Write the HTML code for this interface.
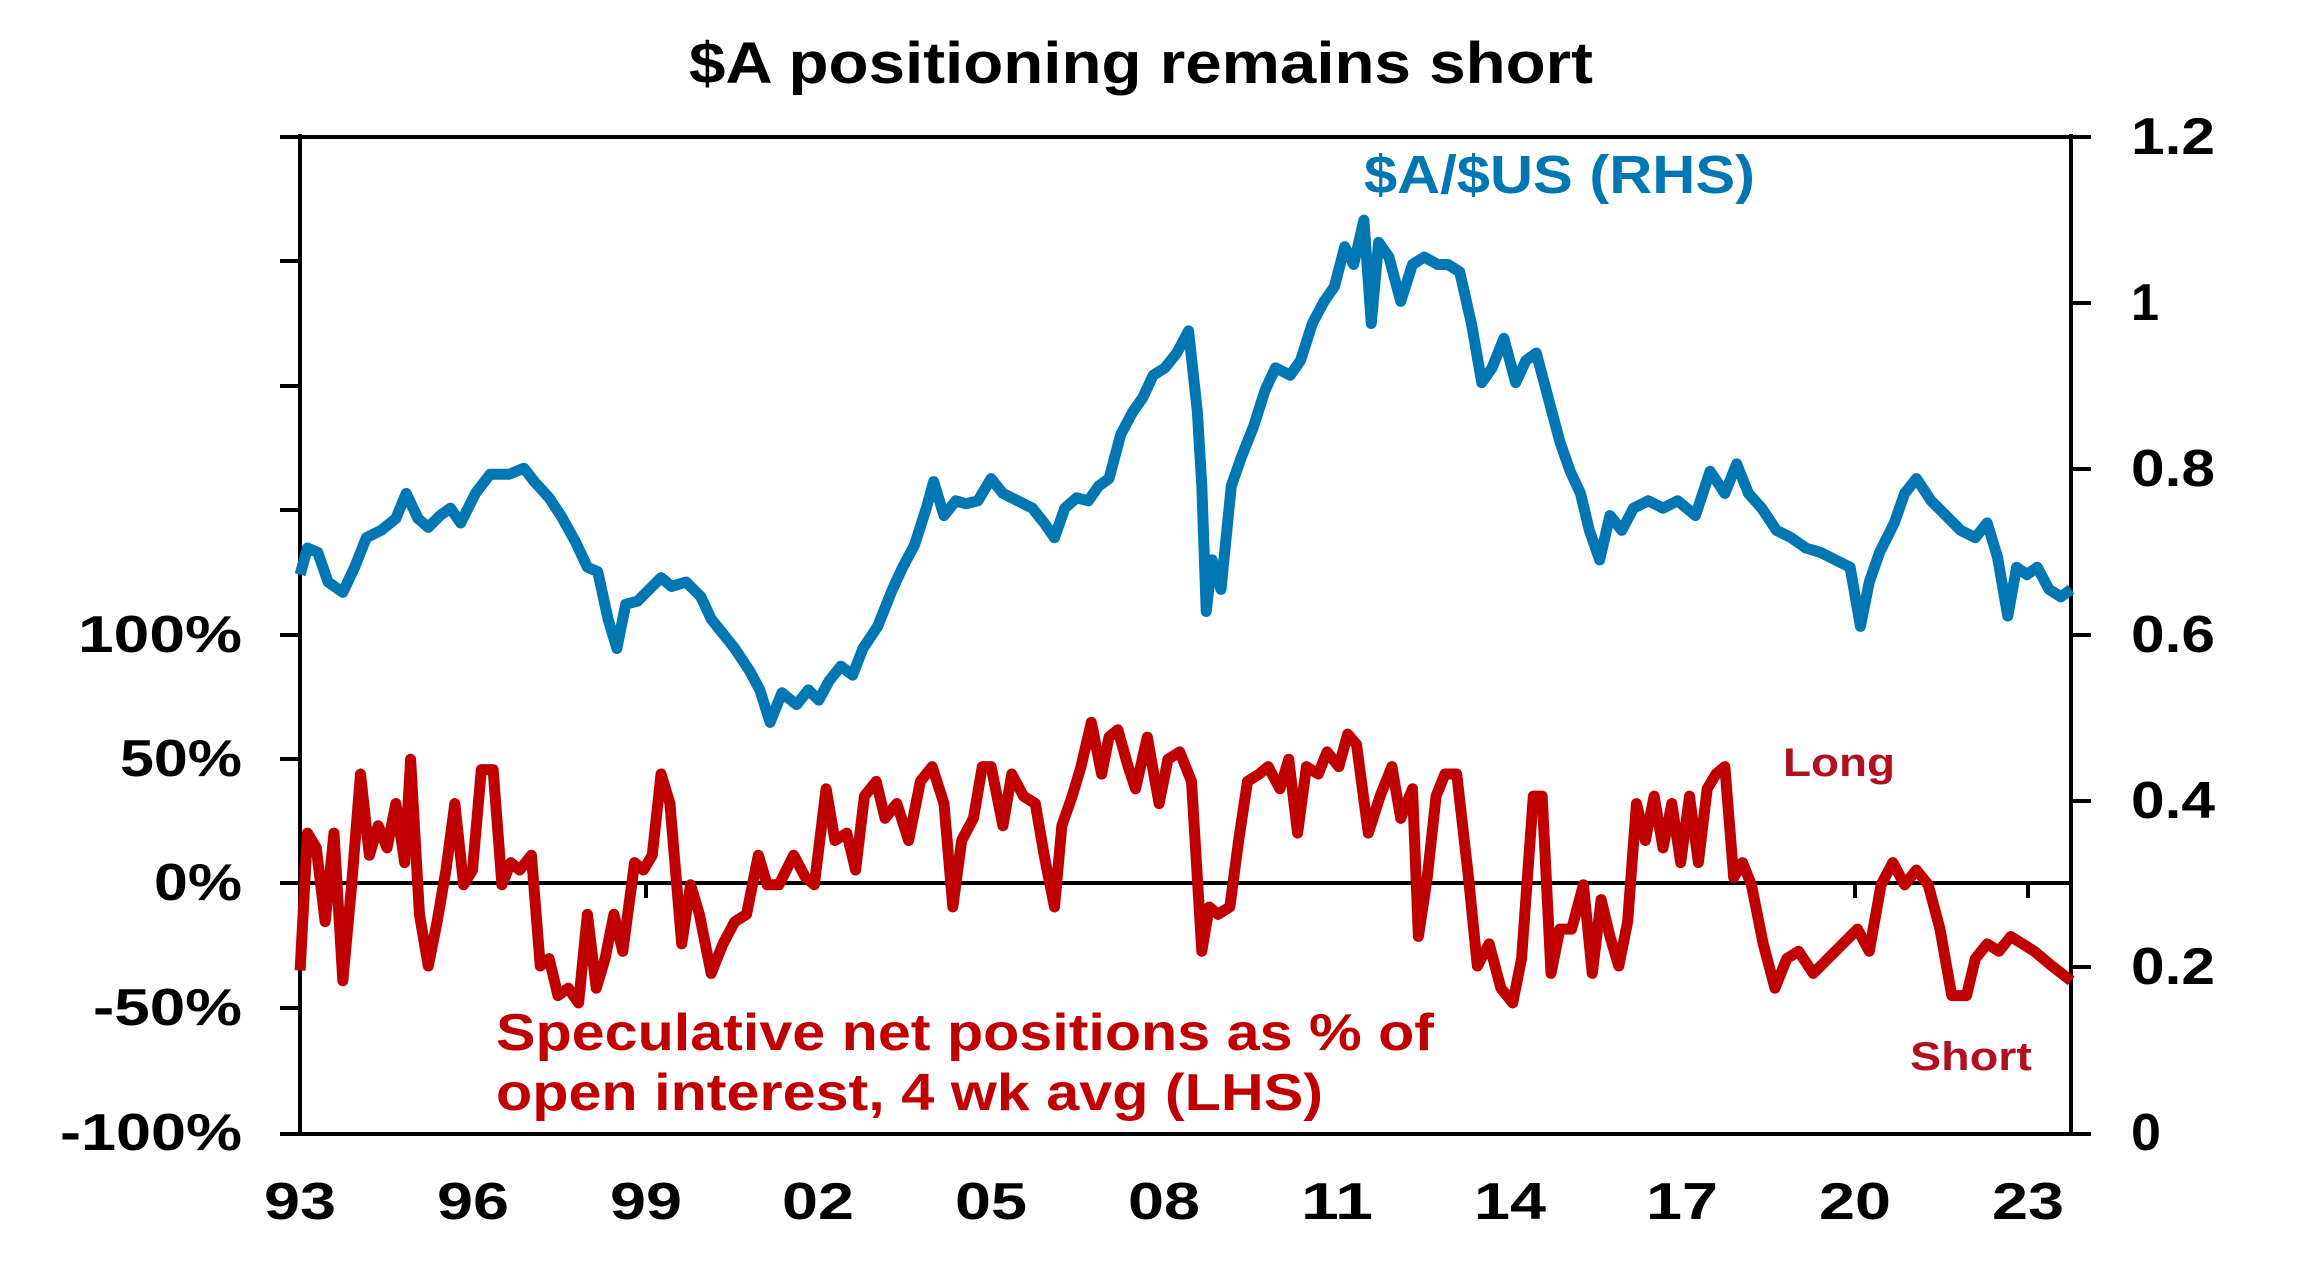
<!DOCTYPE html>
<html><head><meta charset="utf-8"><style>
html,body{margin:0;padding:0;background:#fff;}
svg{display:block;}
text{font-family:"Liberation Sans",Arial,sans-serif;font-weight:bold;}
</style></head><body>
<svg width="2311" height="1264" viewBox="0 0 2311 1264" xmlns="http://www.w3.org/2000/svg">
<text x="689" y="83" font-size="58" textLength="904" lengthAdjust="spacingAndGlyphs" fill="#000">$A positioning remains short</text>
<g stroke="#000" stroke-width="4" fill="none">
<line x1="300" y1="134" x2="300" y2="1135"/>
<line x1="2071" y1="134" x2="2071" y2="1135"/>
<line x1="280" y1="137" x2="2091" y2="137"/>
<line x1="280" y1="1134" x2="2091" y2="1134"/>
<line x1="300" y1="883" x2="2071" y2="883"/>
<line x1="280" y1="261" x2="300" y2="261"/>
<line x1="280" y1="386" x2="300" y2="386"/>
<line x1="280" y1="510" x2="300" y2="510"/>
<line x1="280" y1="635" x2="300" y2="635"/>
<line x1="280" y1="759" x2="300" y2="759"/>
<line x1="280" y1="883" x2="300" y2="883"/>
<line x1="280" y1="1008" x2="300" y2="1008"/>
<line x1="2071" y1="303" x2="2091" y2="303"/>
<line x1="2071" y1="469" x2="2091" y2="469"/>
<line x1="2071" y1="635" x2="2091" y2="635"/>
<line x1="2071" y1="801" x2="2091" y2="801"/>
<line x1="2071" y1="967" x2="2091" y2="967"/>
<line x1="646" y1="883" x2="646" y2="898"/>
<line x1="1855" y1="883" x2="1855" y2="898"/>
<line x1="2028" y1="883" x2="2028" y2="898"/>
</g>
<g font-size="52" fill="#000">
<text x="78" y="652" textLength="164" lengthAdjust="spacingAndGlyphs">100%</text>
<text x="120" y="776" textLength="122" lengthAdjust="spacingAndGlyphs">50%</text>
<text x="154" y="900" textLength="88" lengthAdjust="spacingAndGlyphs">0%</text>
<text x="93" y="1025" textLength="149" lengthAdjust="spacingAndGlyphs">-50%</text>
<text x="60" y="1150" textLength="182" lengthAdjust="spacingAndGlyphs">-100%</text>
</g>
<g font-size="52" fill="#000">
<text x="2131" y="154" textLength="84" lengthAdjust="spacingAndGlyphs">1.2</text>
<text x="2131" y="320" textLength="28" lengthAdjust="spacingAndGlyphs">1</text>
<text x="2131" y="486" textLength="84" lengthAdjust="spacingAndGlyphs">0.8</text>
<text x="2131" y="652" textLength="84" lengthAdjust="spacingAndGlyphs">0.6</text>
<text x="2131" y="818" textLength="84" lengthAdjust="spacingAndGlyphs">0.4</text>
<text x="2131" y="984" textLength="84" lengthAdjust="spacingAndGlyphs">0.2</text>
<text x="2131" y="1150" textLength="30" lengthAdjust="spacingAndGlyphs">0</text>
</g>
<g font-size="52" fill="#000">
<text x="264" y="1219" textLength="72" lengthAdjust="spacingAndGlyphs">93</text>
<text x="437" y="1219" textLength="72" lengthAdjust="spacingAndGlyphs">96</text>
<text x="610" y="1219" textLength="72" lengthAdjust="spacingAndGlyphs">99</text>
<text x="782" y="1219" textLength="72" lengthAdjust="spacingAndGlyphs">02</text>
<text x="955" y="1219" textLength="72" lengthAdjust="spacingAndGlyphs">05</text>
<text x="1128" y="1219" textLength="72" lengthAdjust="spacingAndGlyphs">08</text>
<text x="1301" y="1219" textLength="72" lengthAdjust="spacingAndGlyphs">11</text>
<text x="1474" y="1219" textLength="72" lengthAdjust="spacingAndGlyphs">14</text>
<text x="1646" y="1219" textLength="72" lengthAdjust="spacingAndGlyphs">17</text>
<text x="1819" y="1219" textLength="72" lengthAdjust="spacingAndGlyphs">20</text>
<text x="1992" y="1219" textLength="72" lengthAdjust="spacingAndGlyphs">23</text>
</g>
<g transform="matrix(1.4734,0,0,1.477,1,-1.4)" fill="none" stroke-linejoin="round">
<polyline vector-effect="non-scaling-stroke" stroke="#0077B3" stroke-width="11" points="203,390 208,372 215,375 222,395 232,402 240,385 248,365 258,360 268,352 275,335 283,352 290,358 298,350 305,345 312,355 322,335 332,322 345,322 355,318 362,327 372,338 380,350 390,368 398,385 405,388 412,420 418,440 424,410 432,408 440,400 448,392 455,398 465,395 475,405 482,420 490,430 498,440 508,455 515,468 522,490 530,470 540,478 548,468 555,475 562,462 570,452 578,458 585,440 595,425 605,400 612,385 620,370 628,345 633,327 640,350 648,340 655,342 663,340 672,325 680,335 690,340 700,345 708,355 715,365 722,345 730,338 738,340 745,330 752,325 760,295 768,280 775,270 782,255 790,250 798,240 806,225 812,280 815,330 818,415 822,380 828,400 835,330 842,310 850,290 858,265 865,250 875,255 882,245 890,220 898,205 905,195 912,168 918,180 925,150 930,220 935,165 942,175 950,205 958,180 966,175 975,180 982,180 990,185 998,220 1005,260 1012,250 1020,230 1028,260 1035,245 1042,240 1050,270 1058,300 1065,320 1072,335 1078,360 1085,380 1092,350 1100,360 1108,345 1118,340 1128,345 1138,340 1150,350 1160,320 1170,335 1178,315 1186,335 1195,345 1205,360 1215,365 1225,372 1235,375 1245,380 1255,385 1262,425 1268,395 1275,375 1285,355 1292,335 1300,325 1310,340 1320,350 1330,360 1340,365 1348,355 1355,378 1362,418 1368,385 1375,390 1382,385 1390,400 1398,405 1405,400"/>
<polyline vector-effect="non-scaling-stroke" stroke="#C00000" stroke-width="11" points="203,658 208,565 214,575 220,625 226,565 232,665 238,600 244,525 250,580 256,560 262,575 268,545 274,585 278,515 284,620 290,655 296,625 302,590 308,545 314,600 320,590 326,522 334,522 340,600 346,585 352,590 360,580 366,655 372,650 378,675 385,670 392,680 398,620 404,670 410,650 416,620 422,645 430,585 436,590 442,580 448,525 454,545 462,640 468,600 474,620 482,660 490,640 498,625 506,620 514,580 520,600 528,600 538,580 546,595 552,600 560,535 566,570 574,565 580,590 586,540 594,530 600,555 608,545 616,570 624,530 632,520 640,545 646,615 652,570 660,555 666,520 672,520 680,560 686,525 694,540 702,545 708,580 715,615 720,560 727,540 733,520 740,490 747,525 752,500 758,495 765,520 770,535 778,500 786,545 792,515 800,510 808,530 815,645 820,615 826,620 834,615 840,570 846,530 854,525 860,520 868,535 874,515 880,565 886,520 894,525 900,510 908,520 914,498 920,505 928,565 936,540 944,520 950,555 958,535 962,635 968,595 974,540 980,525 988,525 996,595 1002,655 1010,640 1018,670 1026,680 1032,650 1040,540 1046,540 1052,660 1058,630 1066,630 1074,600 1080,660 1086,610 1092,635 1098,655 1104,625 1110,545 1116,570 1122,540 1128,575 1134,545 1140,585 1146,540 1152,585 1158,535 1164,525 1170,520 1176,595 1182,585 1188,600 1196,640 1204,670 1212,650 1220,645 1230,660 1240,650 1250,640 1260,630 1268,645 1276,600 1284,585 1292,600 1300,590 1308,600 1316,630 1324,675 1334,675 1340,650 1348,640 1356,645 1364,635 1372,640 1380,645 1392,655 1405,665"/>
</g>
<text x="1364" y="193" font-size="54" textLength="391" lengthAdjust="spacingAndGlyphs" fill="#0077B3">$A/$US (RHS)</text>
<text x="496" y="1050" font-size="52" textLength="938" lengthAdjust="spacingAndGlyphs" fill="#C00000">Speculative net positions as % of</text>
<text x="496" y="1110" font-size="52" textLength="827" lengthAdjust="spacingAndGlyphs" fill="#C00000">open interest, 4 wk avg (LHS)</text>
<text x="1783" y="776" font-size="40" textLength="112" lengthAdjust="spacingAndGlyphs" fill="#B0101F">Long</text>
<text x="1910" y="1070" font-size="40" textLength="122" lengthAdjust="spacingAndGlyphs" fill="#B0101F">Short</text>
</svg>
</body></html>
